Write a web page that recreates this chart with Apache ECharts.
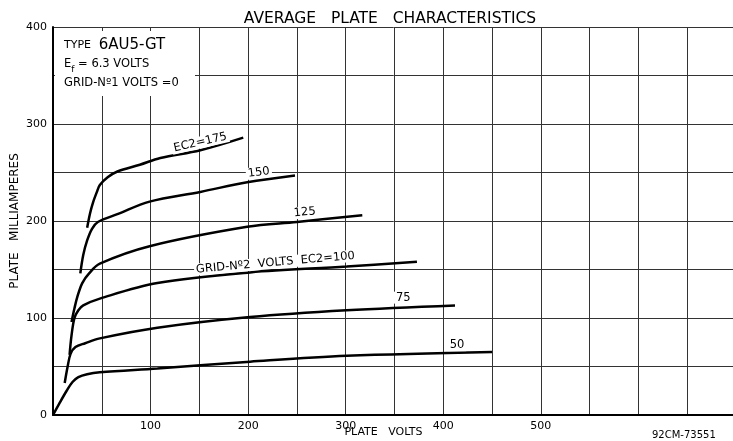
<!DOCTYPE html>
<html>
<head>
<meta charset="utf-8">
<script src="https://cdn.jsdelivr.net/npm/echarts@6/dist/echarts.min.js"></script>
<style>
  html, body { margin: 0; padding: 0; background: #fff; }
  #chart { width: 733px; height: 441px; }
</style>
</head>
<body>
<div id="chart"></div>
<script>
// tick labels shown on the axes
const xTickLabels = [100, 200, 300, 400, 500];
const yTickLabels = [0, 100, 200, 300, 400];

// plate volts / plate mA, one array per screen-grid voltage
const ec2_50  = [[0,0],[6,11],[14,25],[20,34],[26,39],[35,42],[48,44],[107,48],[202,55],[301,61],[450,65]];
const ec2_75  = [[12,33],[15,50],[18,63],[23,70],[33,74],[48,79],[107,90],[202,101],[301,108],[412,113]];
const ec2_100 = [[17,62],[19,82],[22,100],[26,108],[31,113],[48,120],[107,136],[202,147],[301,153],[373,158]];
const ec2_125 = [[19,96],[22,110],[25,122],[30,136],[37,146],[48,156],[99,174],[199,194],[250,199],[317,206]];
const ec2_150 = [[28,146],[31,165],[35,180],[40,192],[46,199],[66,207],[99,220],[151,230],[199,240],[248,247]];
const ec2_175 = [[35,193],[38,208],[41,219],[45,230],[48,237],[56,245],[66,251],[89,258],[110,265],[151,273],[195,286]];

// curve labels: [x, y, text, angle]
const curveLabels = [
  [151, 281, 'EC2=175', 13],
  [211, 250, '150', 7],
  [258, 209, '125', 5],
  [228, 157, 'GRID-Nº2  VOLTS  EC2=100', 5],
  [359, 121, '75', 0],
  [414, 72, '50', 0]
];

const curves = [ec2_50, ec2_75, ec2_100, ec2_125, ec2_150, ec2_175];
const font = 'DejaVu Sans';

let chart = echarts.init(document.getElementById('chart'));

let series = curves.map(function (d) {
  return {
    type: 'line',
    data: d,
    showSymbol: false,
    smooth: 0.35,
    lineStyle: { color: '#000', width: 2.5 },
    z: 3,
    silent: true
  };
});

series.push({
  type: 'scatter',
  symbolSize: 0,
  itemStyle: { opacity: 1 },
  z: 4,
  silent: true,
  data: curveLabels.map(function (l) {
    return {
      value: [l[0], l[1]],
      label: {
        show: true,
        position: 'inside',
        formatter: l[2],
        rotate: l[3],
        color: '#000',
        fontFamily: font,
        fontSize: 11.5,
        backgroundColor: '#fff',
        padding: [0, 2]
      }
    };
  })
});

const option = {
  backgroundColor: '#fff',
  animation: false,
  title: {
    text: 'AVERAGE   PLATE   CHARACTERISTICS',
    left: 385,
    top: 6,
    textAlign: 'center',
    textStyle: { fontFamily: font, fontWeight: 'normal', fontSize: 15.5, color: '#000' }
  },
  grid: { left: 53, top: 27, width: 683, height: 388, outerBoundsMode: 'none', containLabel: false },
  xAxis: {
    type: 'value',
    min: 0,
    max: 700,
    interval: 50,
    name: 'PLATE   VOLTS',
    nameLocation: 'middle',
    nameGap: 12,
    nameMoveOverlap: false,
    nameTextStyle: { fontFamily: font, fontSize: 11, color: '#000', padding: [0, 22, 0, 0] },
    axisLine: { lineStyle: { color: '#000', width: 2 } },
    axisTick: { show: false },
    splitLine: { lineStyle: { color: '#333', width: 1 } },
    axisLabel: {
      margin: 6,
      fontFamily: font,
      fontSize: 11,
      color: '#000',
      formatter: function (v) { return xTickLabels.indexOf(v) >= 0 ? String(v) : ''; }
    }
  },
  yAxis: {
    type: 'value',
    min: 0,
    max: 400,
    interval: 50,
    name: 'PLATE   MILLIAMPERES',
    nameLocation: 'middle',
    nameGap: 32,
    nameMoveOverlap: false,
    nameTextStyle: { fontFamily: font, fontSize: 12, color: '#000' },
    axisLine: { show: true, lineStyle: { color: '#000', width: 2 } },
    axisTick: { show: false },
    splitLine: { lineStyle: { color: '#333', width: 1 } },
    axisLabel: {
      margin: 6,
      fontFamily: font,
      fontSize: 11,
      color: '#000',
      formatter: function (v) { return yTickLabels.indexOf(v) >= 0 ? String(v) : ''; }
    }
  },
  graphic: [
    {
      type: 'rect',
      shape: { x: 55, y: 31, width: 140, height: 65 },
      style: { fill: '#fff' },
      z: 10
    },
    {
      type: 'text',
      x: 64, y: 36,
      z: 11,
      style: {
        text: '{s|TYPE}  {b|6AU5-GT}\n{m|E}{sub|f}{m| = 6.3 VOLTS}\n{m|GRID-Nº1 VOLTS =0}',
        fill: '#000',
        fontFamily: font,
        rich: {
          s: { fontSize: 11, fontFamily: font, lineHeight: 19 },
          b: { fontSize: 15, fontFamily: font, lineHeight: 19 },
          m: { fontSize: 11.5, fontFamily: font, lineHeight: 19 },
          sub: { fontSize: 9, fontFamily: font, verticalAlign: 'bottom', padding: [5, 0, 0, 0] }
        }
      }
    },
    {
      type: 'text',
      x: 652, y: 430,
      z: 11,
      style: { text: '92CM-73551', fill: '#000', fontFamily: font, fontSize: 10 }
    }
  ],
  series: series
};

chart.setOption(option);
</script>
</body>
</html>
